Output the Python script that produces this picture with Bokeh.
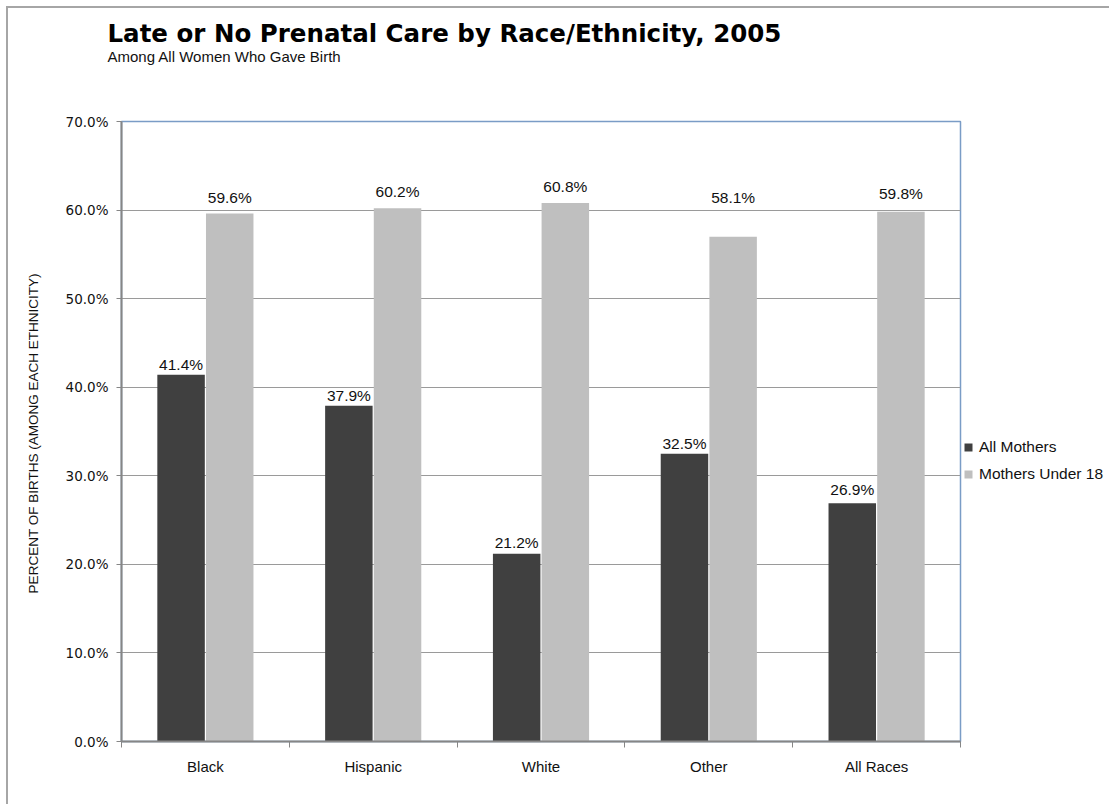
from bokeh.plotting import figure
from bokeh.models import (ColumnDataSource, Range1d, FixedTicker, Legend, LegendItem,
                          PrintfTickFormatter, Title)
from bokeh.core.properties import value
from bokeh.embed import file_html
from bokeh.resources import INLINE

title_text = "Late or No Prenatal Care by Race/Ethnicity, 2005"
subtitle_text = "Among All Women Who Gave Birth"
y_axis_title = "PERCENT OF BIRTHS  (AMONG EACH ETHNICITY)"
series_names = ["All Mothers", "Mothers Under 18"]

categories = ["Black", "Hispanic", "White", "Other", "All Races"]
all_mothers = [41.4, 37.9, 21.2, 32.5, 26.9]
under_18 = [59.6, 60.2, 60.8, 57.0, 59.8]
all_mothers_labels = ["41.4%", "37.9%", "21.2%", "32.5%", "26.9%"]
under_18_labels = ["59.6%", "60.2%", "60.8%", "58.1%", "59.8%"]
y_ticks = [0, 10, 20, 30, 40, 50, 60, 70]

# label gaps above bar tops (pixels, styling as placed in the original)
all_mothers_gap = [3, 3, 4, 3, 6]
under_18_gap = [9, 9, 9, 32, 11]
BASELINE_FIX = 7.5

FONT = "Liberation Sans"
NUMFONT = "DejaVu Sans"
DARK = "#404040"
LIGHT = "#bfbfbf"
TXT = "#111111"

X_MAX, Y_MAX = len(categories), 70

centers = [i + 0.5 for i in range(len(categories))]
dodge = 0.145
bar_w = 0.283

src = ColumnDataSource(dict(
    x1=[c - dodge for c in centers],
    x2=[c + dodge for c in centers],
    v1=all_mothers,
    v2=under_18,
    t1=all_mothers_labels,
    t2=under_18_labels,
    g1=[-(g + BASELINE_FIX) for g in all_mothers_gap],
    g2=[-(g + BASELINE_FIX) for g in under_18_gap],
))

p = figure(frame_width=839, frame_height=620, output_backend="svg", toolbar_location=None,
           x_range=Range1d(0, X_MAX), y_range=Range1d(0, Y_MAX),
           min_border_left=113, min_border_right=147, min_border_top=113,
           min_border_bottom=63)
p.styles = {"margin-left": "6px", "margin-top": "6px",
            "border-left": "2px solid #a6a6a6", "border-top": "2px solid #a6a6a6"}
p.background_fill_color = "white"
p.border_fill_color = "white"
p.outline_line_color = "#7a9cc6"
p.outline_line_width = 1.5

r1 = p.vbar(x="x1", top="v1", width=bar_w, source=src, fill_color=DARK, line_color=None)
r2 = p.vbar(x="x2", top="v2", width=bar_w, source=src, fill_color=LIGHT, line_color=None)

p.text(x="x1", y="v1", text="t1", y_offset="g1", source=src, text_align="center",
       text_baseline="alphabetic", text_font=value(FONT), text_font_size="15.5px",
       text_color=TXT)
p.text(x="x2", y="v2", text="t2", y_offset="g2", source=src, text_align="center",
       text_baseline="alphabetic", text_font=value(FONT), text_font_size="15.5px",
       text_color=TXT)

# x axis: labels at category centres, tick marks between categories
p.xaxis.ticker = FixedTicker(ticks=centers, minor_ticks=list(range(len(categories) + 1)))
p.xaxis.major_label_overrides = {c: name for c, name in zip(centers, categories)}
p.xaxis.major_tick_out = 0
p.xaxis.major_tick_in = 0
p.xaxis.minor_tick_out = 6
p.xaxis.minor_tick_in = 0
p.xaxis.minor_tick_line_color = "#868686"
p.xaxis.axis_line_color = "#868686"
p.xaxis.axis_line_width = 2
p.xaxis.major_label_standoff = 10
p.xaxis.major_label_text_font = FONT
p.xaxis.major_label_text_font_size = "15px"
p.xaxis.major_label_text_color = TXT

p.yaxis.ticker = FixedTicker(ticks=y_ticks, minor_ticks=[])
p.yaxis.formatter = PrintfTickFormatter(format="%.1f%%")
p.yaxis.major_tick_out = 5
p.yaxis.major_tick_in = 0
p.yaxis.major_tick_line_color = "#868686"
p.yaxis.axis_line_color = "#868686"
p.yaxis.axis_line_width = 2
p.yaxis.major_label_standoff = 8
p.yaxis.major_label_text_font = NUMFONT
p.yaxis.major_label_text_font_size = "13.5px"
p.yaxis.major_label_text_color = TXT
p.yaxis.axis_label = y_axis_title
p.yaxis.axis_label_text_font = FONT
p.yaxis.axis_label_text_font_size = "13.5px"
p.yaxis.axis_label_text_font_style = "normal"
p.yaxis.axis_label_text_color = TXT
p.yaxis.axis_label_standoff = 22

p.xgrid.grid_line_color = None
p.ygrid.ticker = FixedTicker(ticks=y_ticks)
p.ygrid.grid_line_color = "#9a9a9a"
p.ygrid.grid_line_width = 1

# above panels, stacked outward from the frame: spacer, subtitle, title
p.add_layout(Title(text=" ", text_font_size="1px", standoff=52), "above")
p.add_layout(Title(text=subtitle_text, align="left", offset=-14, standoff=0,
                   vertical_align="top", text_font=FONT, text_font_size="15px",
                   text_font_style="normal", text_color=TXT), "above")
p.add_layout(Title(text=title_text, align="left", offset=-14, standoff=0,
                   vertical_align="bottom", text_font=NUMFONT, text_font_size="24.5px",
                   text_font_style="bold", text_color="black"), "above")

legend = Legend(items=[LegendItem(label=series_names[0], renderers=[r1]),
                       LegendItem(label=series_names[1], renderers=[r2])],
                location=(3, 257), orientation="vertical",
                glyph_width=10, glyph_height=10, label_height=20, spacing=7,
                padding=0, margin=0, label_standoff=6,
                label_text_font=FONT, label_text_font_size="15.5px", label_text_color=TXT,
                border_line_color=None, background_fill_alpha=0)
p.add_layout(legend, "right")

open("out.html", "w").write(file_html(p, INLINE))
